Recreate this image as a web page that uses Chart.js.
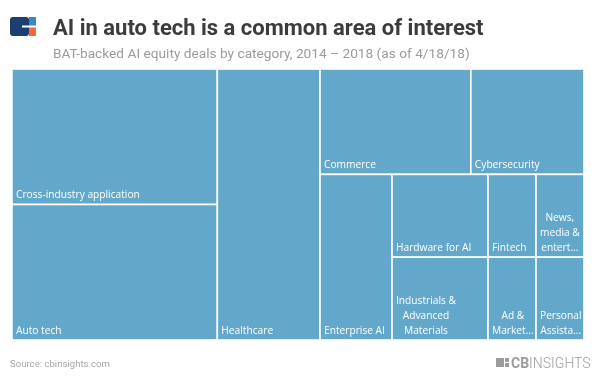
<!DOCTYPE html>
<html>
<head>
<meta charset="utf-8">
<script src="https://cdn.jsdelivr.net/npm/chart.js@4.4.1/dist/chart.umd.min.js"></script>
<style>
  html, body { margin: 0; padding: 0; background: #fff; }
  #wrap { width: 600px; height: 381px; }
</style>
</head>
<body>
<div id="wrap"><canvas id="my-chart" width="600" height="381"></canvas></div>
<script>
// deals per category, in the order they are laid out
var categories = [
    'Cross-industry application', 'Auto tech', 'Healthcare', 'Commerce',
    'Cybersecurity', 'Enterprise AI', 'Hardware for AI',
    'Industrials & Advanced Materials', 'Fintech', 'News, media & entertainment',
    'Ad & Marketing', 'Personal Assistants'
];
var deals = [7, 7, 7, 4, 3, 3, 2, 2, 1, 1, 1, 1];

var title = 'AI in auto tech is a common area of interest';
var subtitle = 'BAT-backed AI equity deals by category, 2014 \u2013 2018 (as of 4/18/18)';
var source = 'Source: cbinsights.com';

var cellColor = 'rgb(99, 168, 202)';

// squarified layout; a strip only takes items of a similar size class
function squarify(values, W, H) {
    var total = values.reduce((a, b) => a + b, 0);
    var areas = values.map(v => v * W * H / total);
    var x = 0, y = 0, w = W, h = H;
    var out = [];
    var worst = (row, side) => {
        var s = row.reduce((a, b) => a + b, 0);
        var mx = Math.max.apply(null, row), mn = Math.min.apply(null, row);
        return Math.max(side * side * mx / (s * s), s * s / (side * side * mn));
    };
    var i = 0;
    while (i < areas.length) {
        var vertical = h <= w;
        var side = vertical ? h : w;
        var row = [areas[i]];
        var best = worst(row, side);
        var j = i + 1;
        while (j < areas.length) {
            if (areas[j] < areas[i] * 0.7) break;
            var r = worst(row.concat(areas[j]), side);
            if (r > best) break;
            best = r;
            row.push(areas[j]);
            j++;
        }
        var thick = row.reduce((a, b) => a + b, 0) / side;
        var off = 0;
        for (var k = i; k < j; k++) {
            var len = areas[k] / thick;
            out[k] = vertical
                ? {x: x, y: y + off, w: thick, h: len}
                : {x: x + off, y: y, w: len, h: thick};
            off += len;
        }
        if (vertical) { x += thick; w -= thick; } else { y += thick; h -= thick; }
        i = j;
    }
    // back to 0..1 fractions for the scales
    return out.map(r => ({x0: r.x / W, x1: (r.x + r.w) / W, y0: r.y / H, y1: (r.y + r.h) / H}));
}

function wrapLabel(ctx, text, maxW) {
    var words = text.split(' ');
    var lines = [];
    var cur = '';
    words.forEach(word => {
        var test = cur ? cur + ' ' + word : word;
        if (!cur || ctx.measureText(test).width <= maxW) {
            cur = test;
        } else {
            lines.push(cur);
            cur = word;
        }
    });
    if (cur) lines.push(cur);
    return lines.map(line => {
        if (ctx.measureText(line).width <= maxW) return line;
        var t = line;
        while (t.length > 1 && ctx.measureText(t + '...').width > maxW) t = t.slice(0, -1);
        return t + '...';
    });
}

var treemapPlugin = {
    id: 'treemap',
    afterDatasetsDraw(chart) {
        var ctx = chart.ctx;
        var xs = chart.scales.x, ys = chart.scales.y;
        var area = chart.chartArea;
        var cells = squarify(deals, area.right - area.left, area.bottom - area.top);
        ctx.save();
        cells.forEach((c, i) => {
            var left = xs.getPixelForValue(c.x0), right = xs.getPixelForValue(c.x1);
            var top = ys.getPixelForValue(c.y0), bottom = ys.getPixelForValue(c.y1);
            ctx.fillStyle = cellColor;
            ctx.fillRect(left, top, right - left, bottom - top);
            ctx.strokeStyle = '#fff';
            ctx.lineWidth = 1.6;
            ctx.strokeRect(left, top, right - left, bottom - top);

            ctx.font = '10.2px "Open Sans"';
            ctx.fillStyle = '#fff';
            ctx.textBaseline = 'middle';
            ctx.textAlign = 'center';
            var lines = wrapLabel(ctx, categories[i], right - left - 6);
            var blockW = Math.max.apply(null, lines.map(l => ctx.measureText(l).width));
            var cx = left + 4 + blockW / 2;
            lines.forEach((line, n) => {
                var ly = bottom - 9 - (lines.length - 1 - n) * 15;
                ctx.fillText(line, cx, ly);
            });
        });
        ctx.restore();
    },
    afterDraw(chart) {
        var ctx = chart.ctx;
        ctx.save();
        // CB Insights mark next to the title
        ctx.fillStyle = '#1c3f70';
        ctx.beginPath();
        ctx.roundRect(10, 17, 19, 19, 3);
        ctx.fill();
        ctx.fillStyle = '#fff';
        ctx.fillRect(22, 25.5, 8, 2);
        ctx.fillStyle = '#3a86c8';
        ctx.fillRect(29, 17, 7, 8.5);
        ctx.fillStyle = '#f26a35';
        ctx.fillRect(29, 27.5, 7, 8.5);

        ctx.textAlign = 'left';
        ctx.textBaseline = 'alphabetic';
        ctx.fillStyle = '#3c3c3c';
        ctx.font = 'bold 22px Roboto';
        ctx.fillText(title, 53, 35);
        ctx.fillStyle = '#9b9b9b';
        ctx.font = '13.7px Roboto';
        ctx.fillText(subtitle, 53, 58);

        ctx.fillStyle = '#a6a6a6';
        ctx.font = '9.6px Roboto';
        ctx.fillText(source, 10, 367);

        // footer logo
        ctx.fillStyle = '#9c9c9c';
        ctx.fillRect(496, 358, 8, 9);
        ctx.fillRect(505, 358, 4, 4);
        ctx.fillRect(505, 363, 4, 4);
        ctx.font = 'bold 14px Roboto';
        ctx.fillText('CB', 511, 367.5);
        var cbw = ctx.measureText('CB').width;
        ctx.font = '300 14px Roboto';
        ctx.fillText('INSIGHTS', 511 + cbw, 367.5);
        ctx.restore();
    }
};

var ctx = document.getElementById('my-chart').getContext('2d');
new Chart(ctx, {
    type: 'scatter',
    data: {
        datasets: [{label: 'Deals', data: []}]
    },
    options: {
        responsive: false,
        animation: false,
        layout: {padding: {left: 12, right: 16, top: 69, bottom: 41}},
        plugins: {legend: {display: false}, tooltip: {enabled: false}},
        scales: {
            x: {type: 'linear', min: 0, max: 1, display: false},
            y: {type: 'linear', min: 0, max: 1, reverse: true, display: false}
        }
    },
    plugins: [treemapPlugin]
});
</script>
</body>
</html>
